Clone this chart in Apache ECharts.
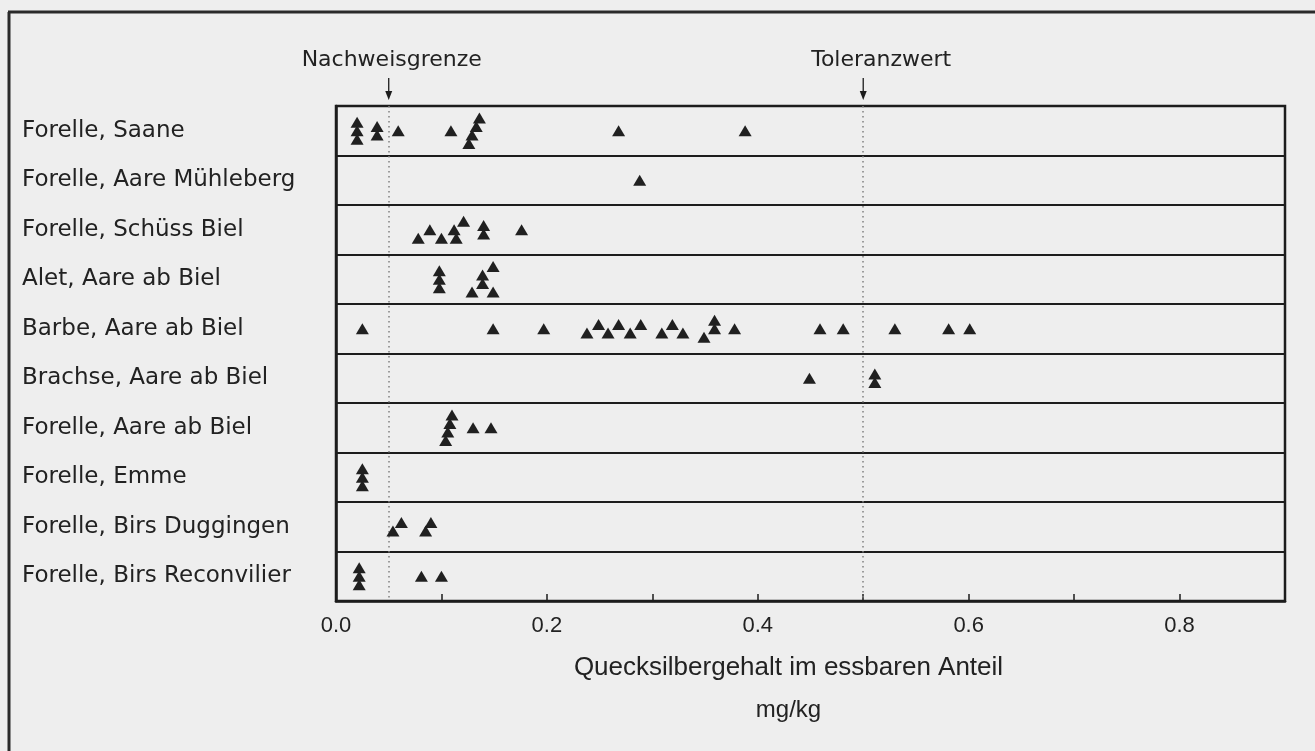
<!DOCTYPE html>
<html>
<head>
<meta charset="utf-8">
<title>Quecksilbergehalt</title>
<script src="https://cdn.jsdelivr.net/npm/echarts@6/dist/echarts.min.js"></script>
<style>
  html, body { margin: 0; padding: 0; background: #eeeeee; }
  #chart { width: 1315px; height: 751px; }
</style>
</head>
<body>
<div id="chart"></div>
<script>
// fish / location rows, top to bottom
const categories = [
  'Forelle, Saane',
  'Forelle, Aare Mühleberg',
  'Forelle, Schüss Biel',
  'Alet, Aare ab Biel',
  'Barbe, Aare ab Biel',
  'Brachse, Aare ab Biel',
  'Forelle, Aare ab Biel',
  'Forelle, Emme',
  'Forelle, Birs Duggingen',
  'Forelle, Birs Reconvilier'
]

// mercury content in mg/kg, one value per fish
const saane = [0.020, 0.020, 0.020, 0.039, 0.039, 0.059, 0.109, 0.126, 0.129, 0.133, 0.136, 0.268, 0.388]
const aareMuehleberg = [0.288]
const schuessBiel = [0.078, 0.089, 0.100, 0.112, 0.114, 0.121, 0.140, 0.140, 0.176]
const aletAareAbBiel = [0.098, 0.098, 0.098, 0.129, 0.139, 0.139, 0.149, 0.149]
const barbeAareAbBiel = [0.025, 0.149, 0.197, 0.238, 0.249, 0.258, 0.268, 0.279, 0.289, 0.309, 0.319,
  0.329, 0.349, 0.359, 0.359, 0.378, 0.459, 0.481, 0.530, 0.581, 0.601]
const brachseAareAbBiel = [0.449, 0.511, 0.511]
const forelleAareAbBiel = [0.104, 0.106, 0.108, 0.110, 0.130, 0.147]
const emme = [0.025, 0.025, 0.025]
const birsDuggingen = [0.054, 0.062, 0.085, 0.090]
const birsReconvilier = [0.022, 0.022, 0.022, 0.081, 0.100]

const rows = [saane, aareMuehleberg, schuessBiel, aletAareAbBiel, barbeAareAbBiel,
  brachseAareAbBiel, forelleAareAbBiel, emme, birsDuggingen, birsReconvilier]

const xTickLabels = ['0.0', '0.2', '0.4', '0.6', '0.8']
const nachweisgrenze = 0.05
const toleranzwert = 0.5

const labelFont = 'DejaVu Sans'
const numFont = 'Liberation Sans'
const ink = '#1c1c1c'

// triangles that would overlap get stacked, each group centred on its row
const CLOSE = 0.012
const STEP = 8.5
function stackRow(values, rowIndex) {
  const sorted = values.slice().sort((a, b) => a - b)
  const levelLast = []
  const items = []
  let group = []
  const flush = () => {
    const top = Math.max(...group.map(p => p.level))
    group.forEach(p => {
      items.push({ value: [p.v, rowIndex], symbolOffset: [0, (top / 2 - p.level) * STEP] })
    })
    group = []
  }
  sorted.forEach((v, i) => {
    if (i > 0 && v - sorted[i - 1] >= CLOSE) {
      flush()
      levelLast.length = 0
    }
    let level = 0
    while (levelLast[level] !== undefined && v - levelLast[level] < CLOSE) level++
    levelLast[level] = v
    group.push({ v, level })
  })
  flush()
  return items
}

const points = []
rows.forEach((vals, i) => points.push(...stackRow(vals, i)))

const chart = echarts.init(document.getElementById('chart'))

chart.setOption({
  animation: false,
  backgroundColor: '#eeeeee',
  grid: {
    left: 336,
    right: 30,
    top: 106,
    bottom: 150,
    show: true,
    borderColor: ink,
    borderWidth: 2.5,
    backgroundColor: 'transparent'
  },
  xAxis: {
    type: 'value',
    min: 0,
    max: 0.9,
    interval: 0.1,
    axisLine: { show: true, lineStyle: { color: ink, width: 2.5 } },
    axisTick: { show: true, inside: true, length: 7, lineStyle: { color: ink, width: 1.5 } },
    splitLine: { show: false },
    axisLabel: {
      margin: 14,
      fontSize: 22,
      fontFamily: numFont,
      color: '#222',
      formatter: v => xTickLabels.includes(v.toFixed(1)) ? v.toFixed(1) : ''
    },
    name: '{q|Quecksilbergehalt im essbaren Anteil}\n{u|mg/kg}',
    nameLocation: 'middle',
    nameGap: 46,
    nameTextStyle: {
      fontFamily: numFont,
      color: '#222',
      verticalAlign: 'top',
      padding: [0, 44, 0, 0],
      rich: {
        q: { fontSize: 26, fontFamily: numFont, color: '#222', lineHeight: 42 },
        u: { fontSize: 24, fontFamily: numFont, color: '#222', lineHeight: 42 }
      }
    }
  },
  yAxis: {
    type: 'category',
    data: categories,
    inverse: true,
    axisLine: { show: true, lineStyle: { color: ink, width: 2.5 } },
    axisTick: { show: false },
    splitLine: { show: true, lineStyle: { color: ink, width: 2 } },
    axisLabel: {
      align: 'left',
      margin: 314,
      fontSize: 23,
      fontFamily: labelFont,
      color: '#222'
    }
  },
  series: [{
    type: 'scatter',
    symbol: 'triangle',
    symbolSize: [13, 11],
    itemStyle: { color: '#202020', opacity: 1 },
    data: points,
    z: 5,
    markLine: {
      silent: true,
      symbol: 'none',
      label: { show: false },
      lineStyle: { color: '#808080', width: 1.5, type: [1.5, 3.5] },
      data: [{ xAxis: nachweisgrenze }, { xAxis: toleranzwert }]
    }
  }]
})

// labels with arrows above the two limit lines
const xN = chart.convertToPixel({ xAxisIndex: 0 }, nachweisgrenze)
const xT = chart.convertToPixel({ xAxisIndex: 0 }, toleranzwert)

function arrow(x) {
  return [
    { type: 'line', shape: { x1: x, y1: 78, x2: x, y2: 96 }, style: { stroke: ink, lineWidth: 1.3 } },
    { type: 'polygon', shape: { points: [[x - 3.5, 91], [x + 3.5, 91], [x, 100]] }, style: { fill: ink } }
  ]
}

chart.setOption({
  graphic: [
    // outer frame of the figure (left and top only visible)
    { type: 'line', shape: { x1: 9, y1: 12, x2: 9, y2: 751 }, style: { stroke: '#2a2a2a', lineWidth: 3 } },
    { type: 'line', shape: { x1: 8, y1: 12, x2: 1315, y2: 12 }, style: { stroke: '#2a2a2a', lineWidth: 3 } },
    {
      type: 'text', x: xN + 3, y: 60,
      style: { text: 'Nachweisgrenze', font: '22px "' + labelFont + '"', fill: '#222', align: 'center', verticalAlign: 'middle' }
    },
    {
      type: 'text', x: xT + 18, y: 60,
      style: { text: 'Toleranzwert', font: '22px "' + labelFont + '"', fill: '#222', align: 'center', verticalAlign: 'middle' }
    },
    ...arrow(xN),
    ...arrow(xT)
  ]
})
</script>
</body>
</html>
